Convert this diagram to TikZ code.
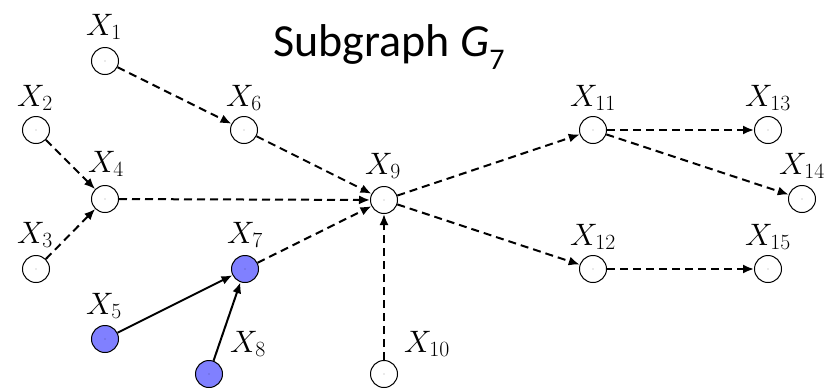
\RequirePackage{fix-cm}
\documentclass[tikz,border=0pt]{standalone}
\usepackage{fontspec}
\newfontfamily\titlefont{Carlito}[ItalicFont={Carlito Italic}]
\usetikzlibrary{arrows.meta}
\begin{document}
\begin{tikzpicture}[x=1pt,y=-1pt,
  var/.style={circle,draw,line width=1pt,minimum size=27pt,inner sep=0pt,fill=white},
  obs/.style={var,fill={rgb,255:red,128;green,128;blue,255}},
  lab/.style={font=\fontsize{31}{34}\selectfont,inner sep=0pt},
  dedge/.style={dash pattern=on 8pt off 5pt,line width=2pt,-{Latex[length=11pt,width=9pt]}},
  sedge/.style={line width=2pt,-{Latex[length=11pt,width=9pt]}}]
\useasboundingbox (0,0) rectangle (828,389);
% nodes
\foreach \n/\x/\y/\s in {1/105/61/var,2/36/130/var,3/36/269/var,4/105/199/var,5/105/339/obs,6/244/130/var,7/245/269/obs,8/209/374/obs,9/384/200/var,10/384/374/var,11/593/130/var,12/593/269/var,13/768/130/var,14/802/199/var,15/768/269/var}{
  \node[\s] (x\n) at (\x,\y) {};
  \fill (\x,\y) circle (0.4pt);
}
% labels
\node[lab] (l1) at (104,27) {$X_{1}$};
\node[lab] (l2) at (35,98) {$X_{2}$};
\node[lab] (l3) at (35,235) {$X_{3}$};
\node[lab] (l4) at (106,164) {$X_{4}$};
\node[lab] (l5) at (104,306) {$X_{5}$};
\node[lab] (l6) at (244,98) {$X_{6}$};
\node[lab] (l7) at (245,235) {$X_{7}$};
\node[lab] (l8) at (248,344) {$X_{8}$};
\node[lab] (l9) at (383,166) {$X_{9}$};
\node[lab] (l10) at (427,344) {$X_{10}$};
\node[lab] (l11) at (593,98) {$X_{11}$};
\node[lab] (l12) at (593,237) {$X_{12}$};
\node[lab] (l13) at (768,98) {$X_{13}$};
\node[lab] (l14) at (802,166) {$X_{14}$};
\node[lab] (l15) at (768,237) {$X_{15}$};
% title
\node[anchor=base,inner sep=0pt] (title) at (389,56) {\titlefont\fontsize{46}{50}\selectfont Subgraph {\itshape G}\raisebox{-0.3em}{\fontsize{30}{30}\selectfont 7}};
% edges
\draw[dedge] (x1) -- (x6);
\draw[dedge] (x2) -- (x4);
\draw[dedge] (x3) -- (x4);
\draw[dedge] (x4) -- (x9);
\draw[dedge] (x6) -- (x9);
\draw[dedge] (x7) -- (x9);
\draw[dedge] (x10) -- (x9);
\draw[sedge] (x5) -- (x7);
\draw[sedge] (x8) -- (x7);
\draw[dedge] (x9) -- (x11);
\draw[dedge] (x9) -- (x12);
\draw[dedge] (x11) -- (x13);
\draw[dedge] (x11) -- (x14);
\draw[dedge] (x12) -- (x15);
\end{tikzpicture}
\end{document}
